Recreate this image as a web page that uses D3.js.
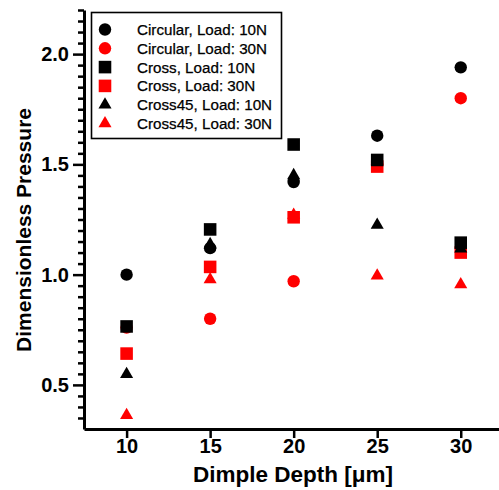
<!DOCTYPE html>
<html>
<head>
<meta charset="utf-8">
<script src="https://cdn.jsdelivr.net/npm/d3@7"></script>
<style>
  html, body { margin: 0; padding: 0; background: #fff; }
  svg { display: block; }
  text { font-family: Arial, "Liberation Sans", sans-serif; }
</style>
</head>
<body>
<svg id="chart" width="499" height="490"></svg>
<script>
// Dimple depth (µm) on the x axis
const depths = [10, 15, 20, 25, 30];

// Dimensionless pressure for each dimple shape and load
const circular10 = [1.00, 1.12, 1.42, 1.63, 1.94];
const circular30 = [0.760, 0.80, 0.97, 1.50, 1.80];
const cross10    = [0.765, 1.205, 1.59, 1.52, 1.145];
const cross30    = [0.642, 1.035, 1.26, 1.49, 1.10];
const cross45_10 = [0.548, 1.137, 1.45, 1.225, 1.118];
const cross45_30 = [0.362, 0.978, 1.27, 0.995, 0.955];

const xTicks = [10, 15, 20, 25, 30];
const yMajorTicks = [0.5, 1.0, 1.5, 2.0];

const series = [
  { name: "Circular, Load: 10N", values: circular10, shape: "circle", color: "#000000" },
  { name: "Circular, Load: 30N", values: circular30, shape: "circle", color: "#ff0000" },
  { name: "Cross, Load: 10N",    values: cross10,    shape: "square", color: "#000000" },
  { name: "Cross, Load: 30N",    values: cross30,    shape: "square", color: "#ff0000" },
  { name: "Cross45, Load: 10N",  values: cross45_10, shape: "triangle", color: "#000000" },
  { name: "Cross45, Load: 30N",  values: cross45_30, shape: "triangle", color: "#ff0000" }
];

const svg = d3.select("#chart");

const x = d3.scaleLinear().domain([7.45, 32.35]).range([84, 500]);
const y = d3.scaleLinear().domain([0.3, 2.2]).range([429, 10]);

const symbolFor = {
  circle:   d3.symbol().type(d3.symbolCircle).size(121),
  square:   d3.symbol().type(d3.symbolSquare).size(158),
  triangle: d3.symbol().type(d3.symbolTriangle).size(74)
};

// y minor ticks every 0.05
const yMinor = d3.range(7, 45).map(i => +(i * 0.05).toFixed(2))
  .filter(v => !yMajorTicks.some(m => Math.abs(m - v) < 1e-6));

const yMinorAxis = svg.append("g")
  .attr("transform", `translate(${x.range()[0]},0)`)
  .call(d3.axisLeft(y).tickValues(yMinor).tickSize(6).tickFormat(""));
yMinorAxis.select(".domain").remove();
yMinorAxis.selectAll("line").attr("stroke", "#000").attr("stroke-width", 2.5);

const yAxis = svg.append("g")
  .attr("transform", `translate(${x.range()[0]},0)`)
  .call(d3.axisLeft(y).tickValues(yMajorTicks).tickSize(11).tickSizeOuter(0)
    .tickPadding(4).tickFormat(d3.format(".1f")));
yAxis.select(".domain").attr("stroke", "#000").attr("stroke-width", 3);
yAxis.selectAll("line").attr("stroke", "#000").attr("stroke-width", 2.5);
yAxis.selectAll("text")
  .attr("font-size", 20).attr("font-weight", "bold").attr("fill", "#000");

const xAxis = svg.append("g")
  .attr("transform", `translate(0,${y.range()[0]})`)
  .call(d3.axisBottom(x).tickValues(xTicks).tickSize(9).tickSizeOuter(0)
    .tickPadding(1).tickFormat(d3.format("d")));
xAxis.select(".domain").attr("stroke", "#000").attr("stroke-width", 3);
xAxis.selectAll("line").attr("stroke", "#000").attr("stroke-width", 2.5);
xAxis.selectAll("text")
  .attr("font-size", 20).attr("font-weight", "bold").attr("fill", "#000");

// axis titles
svg.append("text")
  .attr("x", 293).attr("y", 482)
  .attr("text-anchor", "middle")
  .attr("font-size", 22.5).attr("font-weight", "bold")
  .text("Dimple Depth [μm]");

svg.append("text")
  .attr("transform", "translate(31,230) rotate(-90)")
  .attr("text-anchor", "middle")
  .attr("font-size", 21).attr("font-weight", "bold")
  .text("Dimensionless Pressure");

// markers: 30N series first, 10N series on top
const drawOrder = [1, 3, 5, 0, 2, 4];
const marks = svg.append("g");
drawOrder.forEach(i => {
  const s = series[i];
  marks.append("g").selectAll("path")
    .data(depths.map((d, j) => ({ d, v: s.values[j] })))
    .join("path")
    .attr("transform", p => `translate(${x(p.d)},${y(p.v)})`)
    .attr("d", symbolFor[s.shape]())
    .attr("fill", s.color);
});

// legend
const legend = svg.append("g");
legend.append("rect")
  .attr("x", 91.5).attr("y", 12.5).attr("width", 190).attr("height", 126)
  .attr("fill", "#fff").attr("stroke", "#000").attr("stroke-width", 1.6);

series.forEach((s, i) => {
  const ly = 29.5 + i * 18.8;
  legend.append("path")
    .attr("transform", `translate(105,${ly})`)
    .attr("d", symbolFor[s.shape]())
    .attr("fill", s.color);
  legend.append("text")
    .attr("x", 137).attr("y", ly + 5.5)
    .attr("font-size", 15.2)
    .attr("fill", "#000")
    .attr("stroke", "#000").attr("stroke-width", 0.25)
    .text(s.name);
});
</script>
</body>
</html>
